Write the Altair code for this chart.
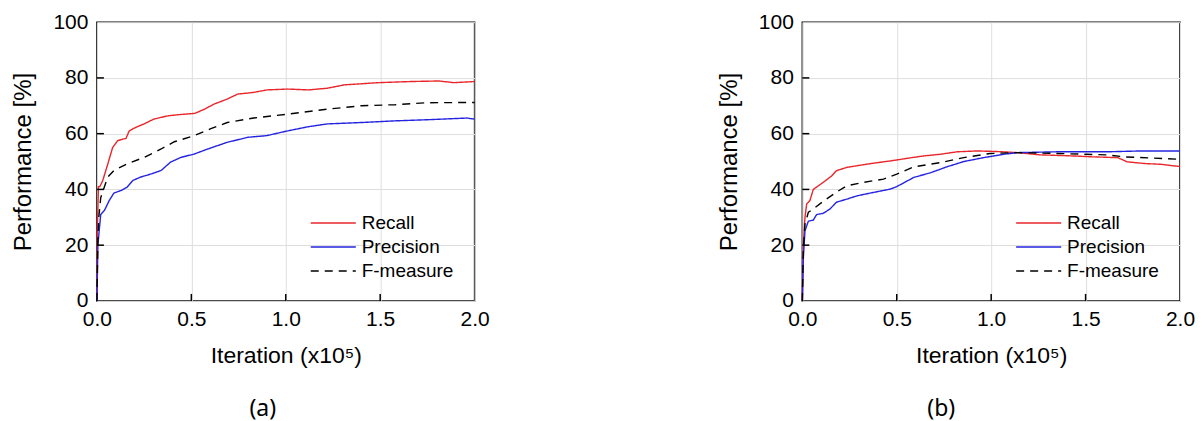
import altair as alt
import pandas as pd

SERIES = ["Recall", "Precision", "F-measure"]
COLORS = ["#e8262b", "#2424e0", "#000000"]
DASHES = [[1, 0], [1, 0], [8, 6]]

X_TICKS = [0.0, 0.5, 1.0, 1.5, 2.0]
Y_TICKS = [0, 20, 40, 60, 80, 100]
X_TICKS_INNER = [0.5, 1.0, 1.5]
Y_TICKS_INNER = [20, 40, 60, 80]

# ---- panel (a) ----
a_recall_x = [0, 0.002, 0.008, 0.015, 0.03, 0.057, 0.083, 0.11, 0.136, 0.154, 0.171, 0.207, 0.25, 0.30,
              0.375, 0.43, 0.52, 0.57, 0.62, 0.69, 0.745, 0.83, 0.9, 1.01, 1.12, 1.22, 1.31, 1.49,
              1.66, 1.81, 1.89, 2.0]
a_recall_y = [0, 25, 41, 41, 43, 49, 55, 57.5, 58, 58.3, 61, 62.3, 63.5, 65.2,
              66.4, 66.8, 67.3, 68.8, 70.6, 72.4, 74.2, 74.8, 75.7, 76, 75.7, 76.3, 77.5, 78.3,
              78.7, 78.9, 78.3, 78.7]
a_prec_x = [0, 0.005, 0.02, 0.04, 0.065, 0.09, 0.127, 0.16, 0.19, 0.23, 0.29, 0.34, 0.39, 0.445,
            0.516, 0.587, 0.69, 0.80, 0.90, 1.01, 1.12, 1.22, 1.40, 1.58, 1.75, 1.96, 2.0]
a_prec_y = [0, 20, 31, 32.5, 36, 38.7, 39.6, 40.8, 43.2, 44.4, 45.6, 46.8, 49.8, 51.5,
            52.7, 54.5, 56.9, 58.7, 59.3, 61, 62.5, 63.5, 64, 64.6, 65, 65.6, 65.2]
a_f_x = [0, 0.005, 0.01, 0.02, 0.057, 0.09, 0.16, 0.25, 0.34, 0.41, 0.516, 0.60, 0.69, 0.83,
         1.01, 1.22, 1.40, 1.58, 1.75, 2.0]
a_f_y = [0, 22, 30, 37, 44.4, 46.8, 49.2, 51.5, 54.5, 57.1, 59.3, 61.7, 64, 65.6,
         67, 68.8, 70, 70.4, 71.1, 71.2]

# ---- panel (b) ----
b_recall_x = [0, 0.005, 0.014, 0.023, 0.04, 0.058, 0.085, 0.12, 0.156, 0.18, 0.235, 0.29, 0.375,
              0.465, 0.55, 0.64, 0.73, 0.82, 0.925, 1.03, 1.14, 1.26, 1.44, 1.53, 1.67, 1.72,
              1.81, 1.90, 2.0]
b_recall_y = [0, 20, 30, 34.8, 36, 40, 41.3, 43, 44.9, 46.7, 47.9, 48.5, 49.4,
              50.2, 51.1, 52, 52.6, 53.5, 53.8, 53.6, 53.2, 52.4, 52, 51.7, 51.4, 49.9,
              49.3, 49, 48.2]
b_prec_x = [0, 0.005, 0.014, 0.032, 0.058, 0.076, 0.11, 0.147, 0.18, 0.235, 0.29, 0.375, 0.465,
            0.5, 0.59, 0.68, 0.765, 0.855, 0.96, 1.066, 1.137, 1.35, 1.615, 1.79, 2.0]
b_prec_y = [0, 15, 25.2, 28.6, 29, 31, 31.4, 33, 35.4, 36.5, 37.7, 38.9, 40.1,
            41, 44.3, 46, 48.1, 50, 51.4, 52.6, 53.2, 53.5, 53.5, 53.8, 53.8]
b_f_x = [0, 0.005, 0.014, 0.032, 0.058, 0.11, 0.18, 0.235, 0.32, 0.43, 0.5, 0.59, 0.73, 0.855,
         0.995, 1.137, 1.35, 1.615, 1.70, 2.0]
b_f_y = [0, 18, 27.6, 31.8, 33, 35.7, 39, 41.3, 42.5, 43.7, 45.5, 48.1, 49.6, 51.4,
         52.9, 53.2, 52.9, 52.4, 51.7, 50.8]

W, H = 378, 279
FONT = "Liberation Sans"


def make_df(parts):
    rows = []
    for name, xs, ys in parts:
        for xv, yv in zip(xs, ys):
            rows.append({"x": xv, "y": yv, "series": name})
    return pd.DataFrame(rows)


def panel(df, caption, cap_dx):
    legend = alt.Legend(
        orient="none", legendX=213, legendY=189, title=None,
        symbolType="M-1,0H3.1", symbolSize=484, symbolStrokeWidth=1.5,
        labelFont=FONT, labelFontSize=19, labelColor="black",
        labelOffset=28, rowPadding=2, padding=0,
    )
    lines = alt.Chart(df).mark_line(strokeWidth=1.4).encode(
        x=alt.X("x:Q", scale=alt.Scale(domain=[0, 2], nice=False),
                axis=alt.Axis(values=X_TICKS, format=".1f", title="Iteration (x10⁵)",
                              labelPadding=8, titlePadding=15, titleFontSize=23)),
        y=alt.Y("y:Q", scale=alt.Scale(domain=[0, 100], nice=False),
                axis=alt.Axis(values=Y_TICKS, title="Performance [%]",
                              labelPadding=9, titlePadding=17, titleFontSize=24)),
        color=alt.Color("series:N", scale=alt.Scale(domain=SERIES, range=COLORS), legend=legend),
        strokeDash=alt.StrokeDash("series:N", scale=alt.Scale(domain=SERIES, range=DASHES), legend=legend),
    )
    xt = alt.Chart(pd.DataFrame({"x": X_TICKS_INNER})).mark_rule(color="black", strokeWidth=1.5).encode(
        x="x:Q", y=alt.value(H - 7), y2=alt.value(H))
    yt = alt.Chart(pd.DataFrame({"y": Y_TICKS_INNER})).mark_rule(color="black", strokeWidth=1.5).encode(
        y="y:Q", x=alt.value(0), x2=alt.value(7))
    return alt.layer(lines, xt, yt).properties(
        width=W, height=H,
        title=alt.TitleParams(caption, orient="bottom", anchor="middle", frame="group",
                              font="Noto Sans", fontSize=23, fontWeight="normal",
                              color="black", offset=30, dx=cap_dx),
    )


df_a = make_df([("Recall", a_recall_x, a_recall_y), ("Precision", a_prec_x, a_prec_y),
                ("F-measure", a_f_x, a_f_y)])
df_b = make_df([("Recall", b_recall_x, b_recall_y), ("Precision", b_prec_x, b_prec_y),
                ("F-measure", b_f_x, b_f_y)])

chart = alt.hconcat(panel(df_a, "(a)", -23), panel(df_b, "(b)", -50), spacing=226).resolve_scale(
    color="independent", strokeDash="independent"
).resolve_legend(
    color="independent", strokeDash="independent"
).properties(
    padding={"left": 3, "top": 2, "right": 0, "bottom": 0},
    background="white",
).configure_view(
    stroke="black", strokeWidth=1.5
).configure_axis(
    labelFont=FONT, titleFont=FONT, labelFontSize=21, titleFontSize=22,
    labelColor="black", titleColor="black", titleFontWeight="normal",
    grid=True, gridColor="#dedede", gridWidth=1, ticks=False, domain=False,
    labelFlush=False, labelOverlap=False,
)

chart.save("out.html", embed_options={"renderer": "svg", "actions": False})
